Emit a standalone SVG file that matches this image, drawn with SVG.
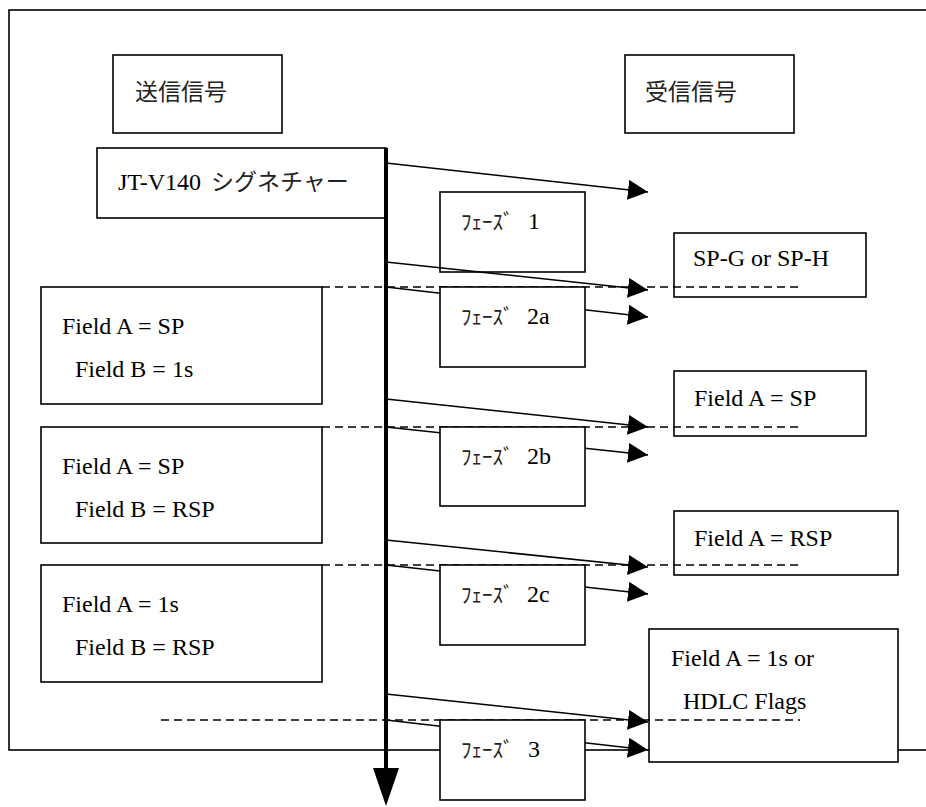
<svg xmlns="http://www.w3.org/2000/svg" width="926" height="807" viewBox="0 0 926 807">
<defs>
<style>
.box{fill:#fff;stroke:#000;stroke-width:1.6}
.frame{fill:none;stroke:#000;stroke-width:1.6}
.arr{stroke:#000;stroke-width:1.6;fill:none;marker-end:url(#ah)}
.dash{stroke:#000;stroke-width:1.6;stroke-dasharray:8 5;fill:none}
.j{font-family:"Noto Sans CJK JP",sans-serif;font-size:23px;fill:#222}
.k{font-family:"Noto Sans CJK JP",sans-serif;font-size:21px;fill:#222}
</style>
<marker id="ah" markerUnits="userSpaceOnUse" markerWidth="20" markerHeight="20" refX="20" refY="10" orient="auto" viewBox="0 0 20 20">
<path d="M0,0 L20,10 L0,20 z" fill="#000"/>
</marker>
</defs>
<rect class="frame" x="9" y="10" width="930" height="740"/>
<g font-family="Liberation Serif, Times New Roman, serif" font-size="24" fill="#000">
<g id="send"><rect class="box" x="113" y="55" width="169" height="78"/><text class="j" x="135" y="100">送信信号</text></g>
<g id="recv"><rect class="box" x="625" y="55" width="169" height="78"/><text class="j" x="645" y="100">受信信号</text></g>
<g id="jt"><rect class="box" x="97" y="148" width="289" height="70"/><text x="118" y="190">JT-V140<tspan class="j" x="211">シグネチャー</tspan></text></g>
<g id="ph1"><rect class="box" x="440" y="192" width="145" height="80"/><text class="k" x="461" y="229">ﾌｪｰｽﾞ</text><text x="528" y="229">1</text></g>
<g id="spg"><rect class="box" x="674" y="233" width="192" height="64"/><text x="693" y="266">SP-G or SP-H</text></g>
<g id="l1"><rect class="box" x="41" y="287" width="281" height="117"/><text x="62" y="334">Field A = SP</text><text x="75" y="377">Field B = 1s</text></g>
<g id="r1"><rect class="box" x="674" y="371" width="192" height="65"/><text x="694" y="406">Field A = SP</text></g>
<g id="l2"><rect class="box" x="41" y="427" width="281" height="116"/><text x="62" y="474">Field A = SP</text><text x="75" y="517">Field B = RSP</text></g>
<g id="r2"><rect class="box" x="674" y="511" width="224" height="64"/><text x="694" y="546">Field A = RSP</text></g>
<g id="l3"><rect class="box" x="41" y="565" width="281" height="117"/><text x="62" y="612">Field A = 1s</text><text x="75" y="655">Field B = RSP</text></g>
<g id="r3"><rect class="box" x="649" y="629" width="249" height="133"/><text x="671" y="666">Field A = 1s or</text><text x="683" y="709">HDLC Flags</text></g>
<g id="connectors">
<line class="arr" x1="386" y1="163" x2="648" y2="192"/>
<line class="arr" x1="386" y1="262" x2="648" y2="290"/>
<line class="arr" x1="386" y1="287" x2="648" y2="317"/>
<line class="arr" x1="386" y1="399" x2="648" y2="427"/>
<line class="arr" x1="386" y1="427" x2="648" y2="455"/>
<line class="arr" x1="386" y1="540" x2="648" y2="567"/>
<line class="arr" x1="386" y1="565" x2="648" y2="594"/>
<line class="arr" x1="386" y1="694" x2="648" y2="722"/>
<line class="arr" x1="386" y1="720" x2="648" y2="750"/>
<line class="dash" x1="322" y1="287" x2="800" y2="287"/>
<line class="dash" x1="322" y1="427" x2="800" y2="427"/>
<line class="dash" x1="322" y1="565" x2="800" y2="565"/>
<line class="dash" x1="161" y1="720" x2="800" y2="720"/>
<line x1="386" y1="148" x2="386" y2="770" stroke="#000" stroke-width="4"/>
<polygon points="373,768 399,768 386,806" fill="#000"/>
</g>
<g id="ph2a"><rect class="box" x="440" y="287" width="145" height="80"/><text class="k" x="461" y="324">ﾌｪｰｽﾞ</text><text x="527" y="324">2a</text></g>
<g id="ph2b"><rect class="box" x="440" y="427" width="145" height="79"/><text class="k" x="461" y="464">ﾌｪｰｽﾞ</text><text x="527" y="464">2b</text></g>
<g id="ph2c"><rect class="box" x="440" y="565" width="145" height="80"/><text class="k" x="461" y="602">ﾌｪｰｽﾞ</text><text x="527" y="602">2c</text></g>
<g id="ph3"><rect class="box" x="440" y="720" width="145" height="80"/><text class="k" x="461" y="757">ﾌｪｰｽﾞ</text><text x="528" y="757">3</text></g>
</g>
</svg>
